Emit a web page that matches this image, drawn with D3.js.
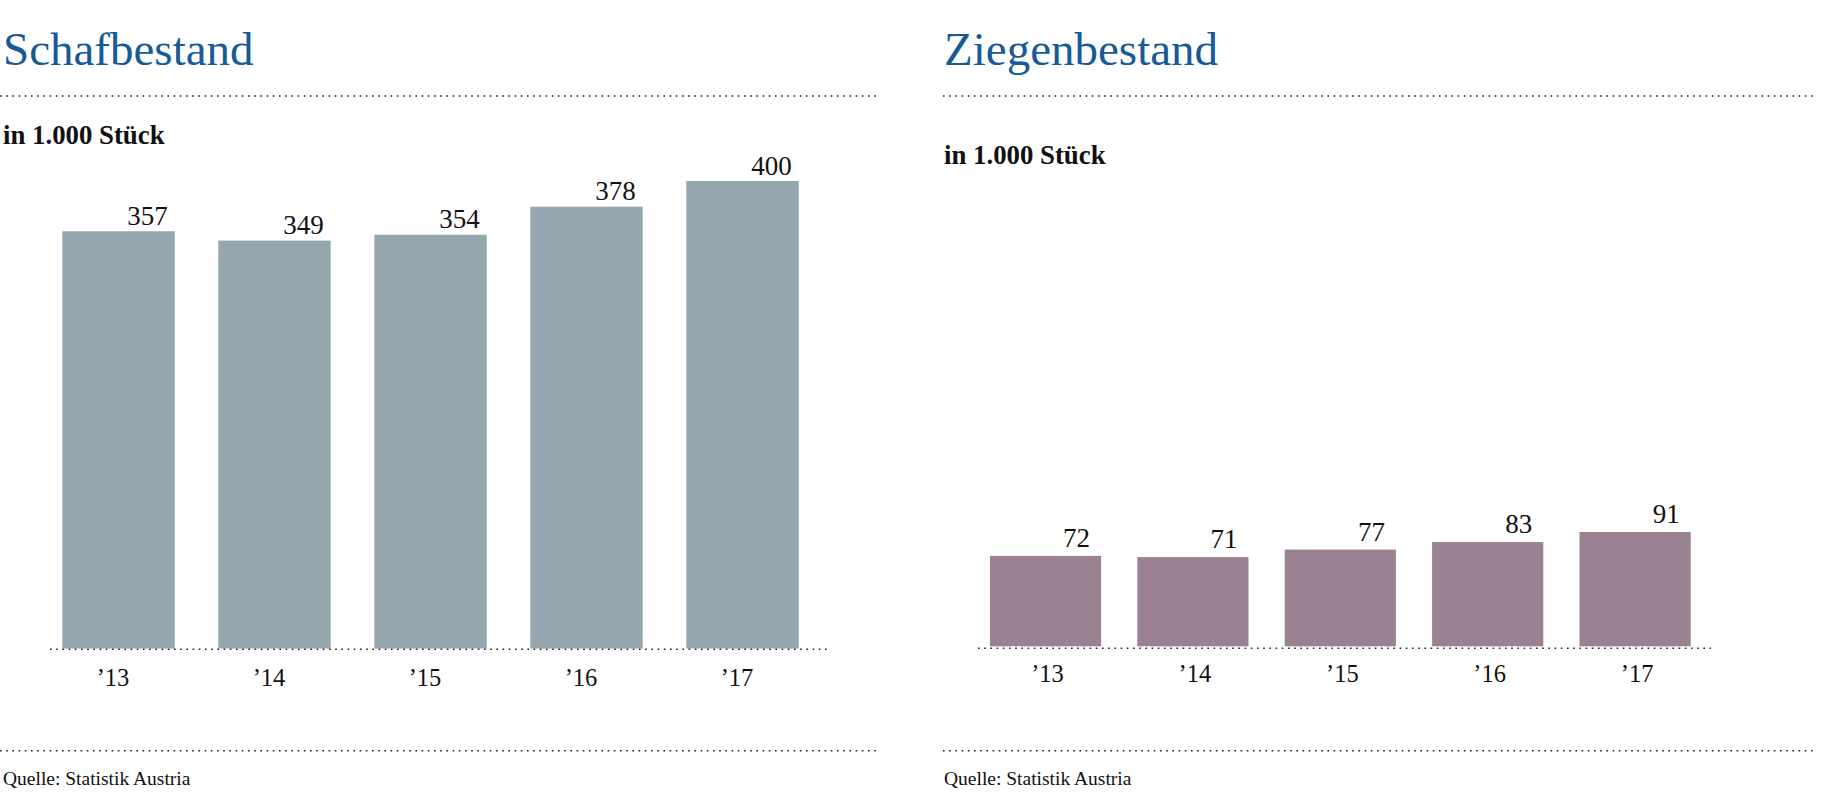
<!DOCTYPE html>
<html>
<head>
<meta charset="utf-8">
<script src="https://cdn.jsdelivr.net/npm/d3@7"></script>
<style>
  html, body { margin: 0; padding: 0; background: #fff; }
  svg { display: block; }
  text { font-family: "Liberation Serif", "DejaVu Serif", serif; }
</style>
</head>
<body>
<svg id="chart" width="1821" height="796"></svg>
<script>
// ---- data ----
const years = ["’13", "’14", "’15", "’16", "’17"];
const sheepValues = [357, 349, 354, 378, 400];
const goatValues = [72, 71, 77, 83, 91];
const titles = ["Schafbestand", "Ziegenbestand"];
const unitLabel = "in 1.000 Stück";
const sourceLabel = "Quelle: Statistik Austria";

const svg = d3.select("#chart");

const panels = [
  {
    title: titles[0], values: sheepValues, color: "#95a6af",
    left: 3, sepX: [0, 876], unitY: 143.5,
    xRange: [40.5, 820.5], pad: 0.2795,
    yDomain: [0, 400], yRange: [648.5, 181],
    baseX: [50, 831], baseY: 649.3,
    labelDx: -7, labelDy: -6.5, tickDx: -5.5, tickY: 685.7
  },
  {
    title: titles[1], values: goatValues, color: "#9b8293",
    left: 944, sepX: [943, 1816], unitY: 163.5,
    xRange: [971.8, 1708.8], pad: 0.2456,
    yDomain: [0, 91], yRange: [646.3, 532],
    baseX: [978, 1711], baseY: 648.3,
    labelDx: -11, labelDy: -9, tickDx: 2, tickY: 681.7
  }
];

function dotted(g, x1, x2, y) {
  g.append("line")
    .attr("x1", x1).attr("x2", x2).attr("y1", y).attr("y2", y)
    .attr("stroke", "#222").attr("stroke-width", 1.6)
    .attr("stroke-dasharray", "1.6,4.6");
}

panels.forEach(p => {
  const g = svg.append("g");

  g.append("text")
    .attr("x", p.left).attr("y", 65)
    .attr("fill", "#175a96")
    .attr("font-size", 47)
    .text(p.title);

  dotted(g, p.sepX[0], p.sepX[1], 96);

  g.append("text")
    .attr("x", p.left).attr("y", p.unitY)
    .attr("fill", "#111")
    .attr("font-size", 26.8).attr("font-weight", "bold")
    .text(unitLabel);

  const x = d3.scaleBand()
    .domain(years)
    .range(p.xRange)
    .paddingInner(p.pad)
    .paddingOuter(p.pad / 2);

  const y = d3.scaleLinear().domain(p.yDomain).range(p.yRange);

  const data = years.map((yr, i) => ({ yr, v: p.values[i] }));

  g.selectAll("rect.bar").data(data).enter().append("rect")
    .attr("class", "bar")
    .attr("x", d => x(d.yr))
    .attr("width", x.bandwidth())
    .attr("y", d => y(d.v))
    .attr("height", d => y(0) - y(d.v))
    .attr("fill", p.color);

  g.selectAll("text.val").data(data).enter().append("text")
    .attr("class", "val")
    .attr("x", d => x(d.yr) + x.bandwidth() + p.labelDx)
    .attr("y", d => y(d.v) + p.labelDy)
    .attr("text-anchor", "end")
    .attr("font-size", 27)
    .attr("fill", "#111")
    .text(d => d.v);

  dotted(g, p.baseX[0], p.baseX[1], p.baseY);

  const axis = g.append("g")
    .attr("transform", `translate(0,${p.tickY})`)
    .call(d3.axisBottom(x).tickSize(0).tickPadding(0));
  axis.select(".domain").remove();
  axis.selectAll("text")
    .attr("y", 0).attr("dy", 0)
    .attr("dx", p.tickDx)
    .attr("font-size", 24.5)
    .attr("font-family", "'Liberation Serif', serif")
    .attr("fill", "#111");

  dotted(g, p.sepX[0], p.sepX[1], 750.7);

  g.append("text")
    .attr("x", p.left).attr("y", 785)
    .attr("fill", "#111")
    .attr("font-size", 19.5)
    .text(sourceLabel);
});
</script>
</body>
</html>
